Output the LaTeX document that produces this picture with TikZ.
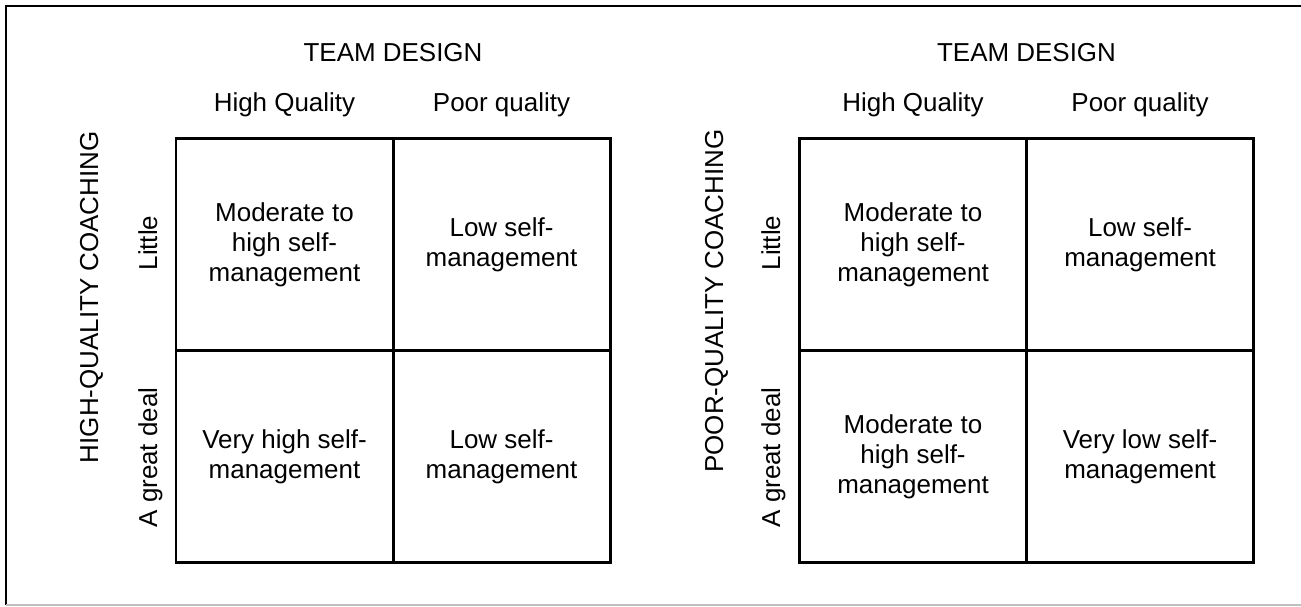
\documentclass[tikz,border=0pt]{standalone}
\usepackage{fontspec}
\setmainfont{Liberation Sans}
\usepackage{tikz}

\tikzset{
  lbl/.style={font=\fontsize{12.2}{14}\selectfont, anchor=base, inner sep=0pt},
  cell/.style={draw, line width=1.4pt, inner sep=0pt, align=center,
    font=\fontsize{12.2}{14}\selectfont, minimum height=99.8pt},
  cellA/.style={cell, minimum width=102pt},
  cellB/.style={cell, minimum width=106.7pt}
}

\begin{document}
\begin{tikzpicture}[x=0.47pt,y=-0.47pt]
\useasboundingbox (0,0) rectangle (1301,606);
% frame
\draw[line width=0.95pt] (6,605) -- (6,6) -- (1301,6);
\draw[black!25, line width=0.5pt] (6,605) -- (1301,605);

% high-quality coaching
\node[cellA] (a11) at (284.5,244.5) {Moderate to\\high self-\\management};
\node[cellA] (a12) at (501.5,244.5) {Low self-\\management};
\node[cellA] (a21) at (284.5,456.5) {Very high self-\\management};
\node[cellA] (a22) at (501.5,456.5) {Low self-\\management};
\node[lbl] (tdA) at (393,61) {TEAM DESIGN};
\node[lbl] (hqA) at (284.5,111) {High Quality};
\node[lbl] (pqA) at (501.5,111) {Poor quality};
\node[lbl, rotate=90, anchor=base east] (coA) at (98,131) {HIGH-QUALITY COACHING};
\node[lbl, rotate=90] (liA) at (157,243) {Little};
\node[lbl, rotate=90] (gdA) at (157,457.5) {A great deal};

% poor-quality coaching
\node[cellB] (b11) at (913,244.5) {Moderate to\\high self-\\management};
\node[cellB] (b12) at (1140,244.5) {Low self-\\management};
\node[cellB] (b21) at (913,456.5) {Moderate to\\high self-\\management};
\node[cellB] (b22) at (1140,456.5) {Very low self-\\management};
\node[lbl] (tdB) at (1026.5,61) {TEAM DESIGN};
\node[lbl] (hqB) at (913,111) {High Quality};
\node[lbl] (pqB) at (1140,111) {Poor quality};
\node[lbl, rotate=90, anchor=base east] (coB) at (723,129) {POOR-QUALITY COACHING};
\node[lbl, rotate=90] (liB) at (780,243) {Little};
\node[lbl, rotate=90] (gdB) at (780,457.5) {A great deal};
\end{tikzpicture}
\end{document}
